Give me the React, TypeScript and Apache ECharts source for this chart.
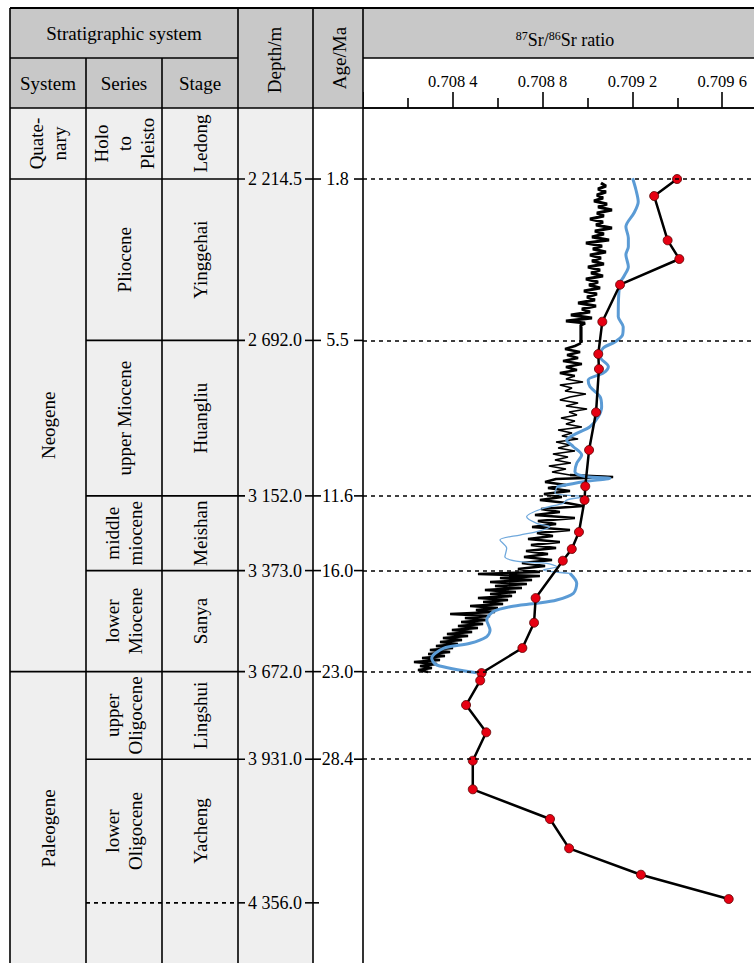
import React, { useEffect, useRef } from 'react';
import * as echarts from 'echarts';

const FONT = 'Liberation Serif, serif';

// ---------- stratigraphic data ----------
const boundaryDepths = [2214.5, 2692.0, 3152.0, 3373.0, 3672.0, 3931.0];
const boundaryAges = ['1.8', '5.5', '11.6', '16.0', '23.0', '28.4'];
const baseDepth = 4356.0;

const systemNames = ['Quate-\nnary', 'Neogene', 'Paleogene'];
const systemTops = ['top', 2214.5, 3672.0];
const systemBottoms = [2214.5, 3672.0, 4600];

const seriesNames = ['Holo\nto\nPleisto', 'Pliocene', 'upper Miocene', 'middle\nmiocene', 'lower\nMiocene', 'upper\nOligocene', 'lower\nOligocene'];
const stageNames = ['Ledong', 'Yinggehai', 'Huangliu', 'Meishan', 'Sanya', 'Lingshui', 'Yacheng'];
const unitTops = ['top', 2214.5, 2692.0, 3152.0, 3373.0, 3672.0, 3931.0];
const unitBottoms = [2214.5, 2692.0, 3152.0, 3373.0, 3672.0, 3931.0, 4356.0];

const ratioTicks = [0.7084, 0.7088, 0.7092, 0.7096];

// ---------- Sr isotope data: [depth m, 87Sr/86Sr] ----------
const highResSr: [number, number][] = [
  [2226.3, 0.70906], [2235.2, 0.709082], [2244.1, 0.709047], [2253.0, 0.709082], [2261.8, 0.709042],
  [2270.7, 0.709069], [2279.6, 0.709029], [2288.5, 0.709087], [2297.3, 0.709047], [2306.2, 0.709109],
  [2315.1, 0.709042], [2324.0, 0.709073], [2332.8, 0.709011], [2341.7, 0.709069], [2350.6, 0.709038],
  [2359.5, 0.709109], [2368.3, 0.709033], [2377.2, 0.709073], [2386.1, 0.70902], [2395.0, 0.709096],
  [2403.9, 0.708993], [2412.7, 0.709065], [2421.6, 0.709024], [2430.5, 0.709082], [2439.4, 0.709011],
  [2448.2, 0.70906], [2457.1, 0.70902], [2466.0, 0.709073], [2474.9, 0.709002], [2483.7, 0.709056],
  [2492.6, 0.709016], [2501.5, 0.709069], [2510.4, 0.708993], [2519.2, 0.709047], [2528.1, 0.709007],
  [2537.0, 0.709056], [2545.9, 0.708984], [2554.7, 0.709042], [2563.6, 0.708998], [2572.5, 0.709033],
  [2581.4, 0.708958], [2590.2, 0.709038], [2599.1, 0.708975], [2608.0, 0.709011], [2616.9, 0.708926],
  [2625.7, 0.70902], [2634.6, 0.708904], [2640.5, 0.708989], [2646.5, 0.708971], [2700.0, 0.708971],
  [2708.6, 0.708944], [2717.5, 0.7089], [2726.4, 0.708967], [2735.2, 0.708909], [2744.1, 0.708958],
  [2753.0, 0.708891], [2761.9, 0.708975], [2770.7, 0.708904], [2779.6, 0.708953], [2788.5, 0.708877],
  [2797.4, 0.708944], [2806.2, 0.708904], [2815.1, 0.70898], [2824.0, 0.708877], [2832.9, 0.708931],
  [2841.7, 0.7089], [2850.6, 0.708993], [2859.5, 0.708922], [2868.4, 0.708877], [2877.2, 0.708958],
  [2886.1, 0.708904], [2895.0, 0.708998], [2903.9, 0.708918], [2912.7, 0.708953], [2921.6, 0.708882],
  [2930.5, 0.708944], [2939.4, 0.708904], [2948.3, 0.708975], [2957.1, 0.708869], [2966.0, 0.708931],
  [2974.9, 0.708886], [2983.8, 0.708958], [2992.6, 0.70886], [3001.5, 0.708922], [3010.4, 0.708869],
  [3019.3, 0.708944], [3028.1, 0.708846], [3037.0, 0.708913], [3045.9, 0.708855], [3054.8, 0.708926],
  [3063.6, 0.708828], [3072.5, 0.708904], [3081.4, 0.708842], [3090.3, 0.708922], [3096.2, 0.709114],
  [3102.1, 0.70886], [3111.0, 0.708811], [3119.8, 0.708904], [3128.7, 0.708824], [3137.6, 0.708922],
  [3146.5, 0.708806], [3155.3, 0.708886], [3164.2, 0.708788], [3173.1, 0.708909], [3182.0, 0.70898],
  [3190.8, 0.708793], [3199.7, 0.708877], [3208.6, 0.708766], [3217.5, 0.708944], [3226.3, 0.708779],
  [3235.2, 0.70886], [3244.1, 0.708753], [3253.0, 0.708922], [3261.8, 0.708775], [3270.7, 0.708846],
  [3279.6, 0.708735], [3288.5, 0.708877], [3297.3, 0.708748], [3306.2, 0.70886], [3315.1, 0.708726],
  [3324.0, 0.708824], [3332.8, 0.708717], [3341.7, 0.708842], [3350.6, 0.708708], [3359.5, 0.708811],
  [3368.4, 0.70869], [3377.2, 0.708788], [3383.1, 0.708512], [3389.1, 0.708788], [3395.0, 0.70861],
  [3400.9, 0.708753], [3406.8, 0.708566], [3412.7, 0.70873], [3418.6, 0.708588], [3424.5, 0.708708],
  [3430.4, 0.708543], [3436.4, 0.708681], [3442.3, 0.708566], [3448.2, 0.708664], [3454.1, 0.708512],
  [3460.0, 0.708646], [3465.9, 0.708535], [3471.8, 0.708624], [3477.7, 0.708477], [3483.6, 0.708601],
  [3489.6, 0.708503], [3495.5, 0.708588], [3501.4, 0.708388], [3507.3, 0.708566], [3513.2, 0.708454],
  [3519.1, 0.708552], [3525.0, 0.708437], [3530.9, 0.708535], [3536.9, 0.708423], [3542.8, 0.708512],
  [3548.7, 0.708396], [3554.6, 0.708486], [3560.5, 0.708374], [3566.4, 0.708468], [3572.3, 0.708356],
  [3578.2, 0.708441], [3584.2, 0.708343], [3590.1, 0.708423], [3596.0, 0.708325], [3601.9, 0.708401],
  [3607.8, 0.708298], [3613.7, 0.708388], [3619.6, 0.70829], [3625.5, 0.708365], [3631.5, 0.708263],
  [3637.4, 0.708343], [3643.3, 0.708227], [3649.2, 0.70833], [3655.1, 0.708254], [3661.0, 0.708307],
  [3666.9, 0.708245], [3672.9, 0.70829],
];

const blueUpper: [number, number][] = [
  [2212.4, 0.709201], [2247.0, 0.709216], [2281.7, 0.709226], [2315.1, 0.709207], [2355.6, 0.709171],
  [2389.0, 0.709182], [2414.8, 0.709182], [2438.4, 0.709171], [2474.0, 0.709182], [2501.5, 0.709163],
  [2522.2, 0.709145], [2572.5, 0.709138], [2621.9, 0.709137], [2651.5, 0.709159], [2676.0, 0.709156],
  [2696.8, 0.709122], [2714.5, 0.70907], [2740.3, 0.709056], [2769.8, 0.709093], [2788.5, 0.70907],
  [2809.2, 0.709003], [2829.0, 0.709011], [2858.6, 0.709056], [2888.2, 0.709063], [2917.8, 0.709048],
  [2947.3, 0.709011], [2966.9, 0.708952], [2986.7, 0.708907], [3006.5, 0.708937], [3031.1, 0.708974],
  [3055.6, 0.708952], [3080.5, 0.708944], [3095.3, 0.708996], [3100.0, 0.7091], [3110.1, 0.708981],
  [3124.9, 0.708863],
];
const blueMiddle: [number, number][] = [
  [3124.9, 0.708863], [3144.4, 0.708855], [3154.4, 0.708981], [3164.2, 0.708907], [3174.0, 0.708892],
  [3188.8, 0.708803], [3213.6, 0.708729], [3233.2, 0.708774], [3243.2, 0.708833], [3258.0, 0.708774],
  [3267.8, 0.708699], [3282.6, 0.70861], [3307.1, 0.70864], [3332.0, 0.708632], [3346.8, 0.708699],
  [3351.5, 0.708818], [3361.6, 0.708863], [3371.3, 0.708803], [3376.4, 0.708848], [3381.1, 0.708922],
];
const blueLower: [number, number][] = [
  [3381.1, 0.708922], [3410.7, 0.708952], [3440.3, 0.708937], [3460.1, 0.708863], [3469.9, 0.708774],
  [3479.9, 0.708655], [3494.7, 0.70858], [3519.2, 0.708551], [3548.8, 0.708566], [3568.6, 0.708551],
  [3588.2, 0.708477], [3603.0, 0.708358], [3632.6, 0.708306], [3652.4, 0.708328], [3675.2, 0.708506],
];

const sampleSr: [number, number][] = [
  [2214.5, 0.709399], [2264.8, 0.709297], [2395.9, 0.709357], [2451.2, 0.709409], [2527.2, 0.709145],
  [2636.7, 0.709066], [2732.3, 0.709048], [2776.6, 0.709051], [2904.7, 0.709038], [3016.3, 0.709007],
  [3123.7, 0.70899], [3164.2, 0.708987], [3258.9, 0.708962], [3309.2, 0.70893], [3343.8, 0.70889],
  [3454.2, 0.708769], [3527.2, 0.708762], [3602.1, 0.70871], [3676.1, 0.708528], [3698.2, 0.708522],
  [3770.7, 0.708459], [3851.5, 0.708549], [3935.5, 0.708489], [4020.1, 0.708489], [4108.0, 0.708833],
  [4194.7, 0.708918], [4272.8, 0.709238], [4344.7, 0.709629],
];

// ---------- layout ----------
const W = 754;
const H = 963;
const COL = [10, 86, 162, 238, 313, 363];
const HEAD_TOP = 8;
const HEAD_MID = 58;
const HEAD_BOT = 108;
const HEAD_GRAY = '#c8c8c8';
const BODY_GRAY = '#efefef';
const LW = 1.6;

const swap = (a: [number, number][]) => a.map(([d, r]) => [r, d]);
const inRange = (a: [number, number][], lo: number, hi: number) => a.filter(([d]) => d >= lo && d <= hi);
const fmtDepth = (d: number) => d.toFixed(1).replace(/^(\d)(\d{3})/, '$1 $2');
const fmtRatio = (v: number) => {
  const s = v.toFixed(4);
  return s.slice(0, 5) + ' ' + s.slice(5);
};

function ln(x1: number, y1: number, x2: number, y2: number, w = LW, dash?: number[]) {
  return {
    type: 'line', silent: true, z: 10,
    shape: { x1, y1, x2, y2 },
    style: { stroke: '#000', lineWidth: w, lineDash: dash },
  };
}
function txt(x: number, y: number, text: string, rot = false, size = 19, lh = 22) {
  return {
    type: 'text', silent: true, z: 11, x, y, rotation: rot ? Math.PI / 2 : 0,
    style: {
      text, x: 0, y: 0, align: 'center', verticalAlign: 'middle',
      fontFamily: FONT, fontSize: size, fill: '#000', lineHeight: lh,
    },
  };
}
function rect(x: number, y: number, w: number, h: number, fill: string) {
  return { type: 'rect', silent: true, z: 1, shape: { x, y, width: w, height: h }, style: { fill } };
}

function buildTable(yOf: (d: number) => number, xOf: (v: number) => number) {
  const els: any[] = [];
  const pos = (d: number | string) => (d === 'top' ? HEAD_BOT : yOf(d as number));
  // backgrounds
  els.push(rect(COL[0], HEAD_TOP, W - COL[0], HEAD_MID - HEAD_TOP, HEAD_GRAY));
  els.push(rect(COL[0], HEAD_MID, COL[5] - COL[0], HEAD_BOT - HEAD_MID, HEAD_GRAY));
  els.push(rect(COL[0], HEAD_BOT, COL[4] - COL[0], H - HEAD_BOT, BODY_GRAY));
  // header frame
  els.push(ln(COL[0], HEAD_TOP, W, HEAD_TOP, 2.2));
  els.push(ln(COL[0], HEAD_MID, COL[3], HEAD_MID));
  els.push(ln(COL[5], HEAD_MID, W, HEAD_MID));
  els.push(ln(COL[0], HEAD_BOT, W, HEAD_BOT));
  els.push(ln(COL[0], HEAD_TOP, COL[0], H));
  els.push(ln(COL[1], HEAD_MID, COL[1], H));
  els.push(ln(COL[2], HEAD_MID, COL[2], H));
  els.push(ln(COL[3], HEAD_TOP, COL[3], H));
  els.push(ln(COL[4], HEAD_TOP, COL[4], H));
  els.push(ln(COL[5], HEAD_TOP, COL[5], H));
  // header texts
  els.push(txt((COL[0] + COL[3]) / 2, 33, 'Stratigraphic system'));
  els.push(txt((COL[0] + COL[1]) / 2, 83, 'System'));
  els.push(txt((COL[1] + COL[2]) / 2, 83, 'Series'));
  els.push(txt((COL[2] + COL[3]) / 2, 83, 'Stage'));
  els.push(txt((COL[3] + COL[4]) / 2 - 1, 60, 'Depth/m', true));
  els.push(txt((COL[4] + COL[5]) / 2 + 1, 58, 'Age/Ma', true));
  els.push({
    type: 'text', silent: true, z: 11, x: 565, y: 40,
    style: {
      text: '{sup|87}{main|Sr/}{sup|86}{main|Sr ratio}',
      align: 'center', verticalAlign: 'middle', fill: '#000',
      fontFamily: FONT, fontSize: 18,
      rich: {
        sup: { fontFamily: FONT, fontSize: 12, verticalAlign: 'top', lineHeight: 21, fill: '#000' },
        main: { fontFamily: FONT, fontSize: 18, lineHeight: 21, fill: '#000' },
      },
    },
  });
  // ratio axis tick labels, positioned through the x axis scale
  ratioTicks.forEach((v) => {
    els.push(txt(xOf(v), 81, fmtRatio(v), false, 16.5));
  });
  // systems
  systemNames.forEach((name, i) => {
    const y0 = pos(systemTops[i]);
    const y1 = pos(systemBottoms[i]);
    els.push(txt((COL[0] + COL[1]) / 2, (y0 + y1) / 2, name, true, 19, 23));
  });
  // series & stage
  seriesNames.forEach((name, i) => {
    const y0 = pos(unitTops[i]);
    const y1 = pos(unitBottoms[i]);
    els.push(txt((COL[1] + COL[2]) / 2, (y0 + y1) / 2, name, true, 19, 23));
    els.push(txt((COL[2] + COL[3]) / 2, (y0 + y1) / 2, stageNames[i], true));
  });
  // boundaries
  boundaryDepths.forEach((d, i) => {
    const y = yOf(d);
    const full = d === 2214.5 || d === 3672.0;
    els.push(ln(full ? COL[0] : COL[1], y, COL[3] + 7, y));
    els.push(txt(275, y, fmtDepth(d), false, 18));
    els.push(ln(305, y, 321, y));
    els.push(txt(337.5, y, boundaryAges[i], false, 18));
    els.push(ln(354, y, COL[5], y));
  });
  const yb = yOf(baseDepth);
  els.push(ln(COL[1], yb, COL[3], yb, LW, [4, 4]));
  els.push(ln(COL[3], yb, COL[3] + 7, yb));
  els.push(txt(275, yb, fmtDepth(baseDepth), false, 18));
  els.push(ln(305, yb, 319, yb));
  return els;
}

const option: any = {
  animation: false,
  backgroundColor: '#fff',
  textStyle: { fontFamily: FONT },
  grid: {
    left: COL[5], top: HEAD_BOT, width: 449, height: H - HEAD_BOT,
    containLabel: false, outerBoundsMode: 'none',
  },
  xAxis: {
    type: 'value', position: 'top', min: 0.708, max: 0.71, interval: 0.0004,
    axisLine: { show: true, lineStyle: { color: '#000', width: LW } },
    axisTick: { show: true, length: 16, lineStyle: { color: '#000', width: LW } },
    minorTick: { show: true, splitNumber: 2, length: 10, lineStyle: { color: '#000', width: LW } },
    splitLine: { show: false },
    minorSplitLine: { show: false },
    axisLabel: { show: false },
  },
  yAxis: { type: 'value', inverse: true, min: 2004.4, max: 4534, show: false },
  series: [
    {
      type: 'line', data: swap(inRange(highResSr, 0, 2700)), showSymbol: false, symbol: 'none',
      lineStyle: { color: '#000', width: 3.2 }, z: 2,
    },
    {
      type: 'line', data: swap(inRange(highResSr, 2700, 2800)), showSymbol: false, symbol: 'none',
      lineStyle: { color: '#000', width: 2.6 }, z: 2,
    },
    {
      type: 'line', data: swap(inRange(highResSr, 2795, 3100)), showSymbol: false, symbol: 'none',
      lineStyle: { color: '#000', width: 1.6 }, z: 2,
    },
    {
      type: 'line', data: swap(inRange(highResSr, 3090, 9999)), showSymbol: false, symbol: 'none',
      lineStyle: { color: '#000', width: 2.6 }, z: 2,
    },
    {
      type: 'line', data: swap(blueUpper), showSymbol: false, symbol: 'none', smooth: 0.3,
      lineStyle: { color: '#5b9bd5', width: 3 }, z: 3,
    },
    {
      type: 'line', data: swap(blueMiddle), showSymbol: false, symbol: 'none', smooth: 0.3,
      lineStyle: { color: '#6fa8dc', width: 1.3 }, z: 3,
    },
    {
      type: 'line', data: swap(blueLower), showSymbol: false, symbol: 'none', smooth: 0.3,
      lineStyle: { color: '#5b9bd5', width: 3 }, z: 3,
    },
    {
      type: 'line', data: swap(sampleSr), symbol: 'circle', symbolSize: 9,
      itemStyle: { color: '#e60012', borderColor: '#5a0000', borderWidth: 0.8 },
      lineStyle: { color: '#000', width: 2.5 }, z: 4,
      markLine: {
        silent: true, symbol: ['none', 'none'], label: { show: false },
        lineStyle: { color: '#000', type: [4, 4], width: 1.6 },
        data: boundaryDepths.map((d) => ({ yAxis: d })),
      },
    },
  ],
};

export default function App() {
  const ref = useRef<HTMLDivElement>(null);
  useEffect(() => {
    const chart = echarts.init(ref.current!, null, { renderer: 'svg' });
    chart.setOption(option);
    const yOf = (d: number) => chart.convertToPixel({ yAxisIndex: 0 }, d) as number;
    const xOf = (v: number) => chart.convertToPixel({ xAxisIndex: 0 }, v) as number;
    chart.setOption({ graphic: { elements: buildTable(yOf, xOf) } });
    return () => chart.dispose();
  }, []);
  return <div ref={ref} style={{ position: 'absolute', left: 0, top: 0, width: W, height: H }} />;
}
